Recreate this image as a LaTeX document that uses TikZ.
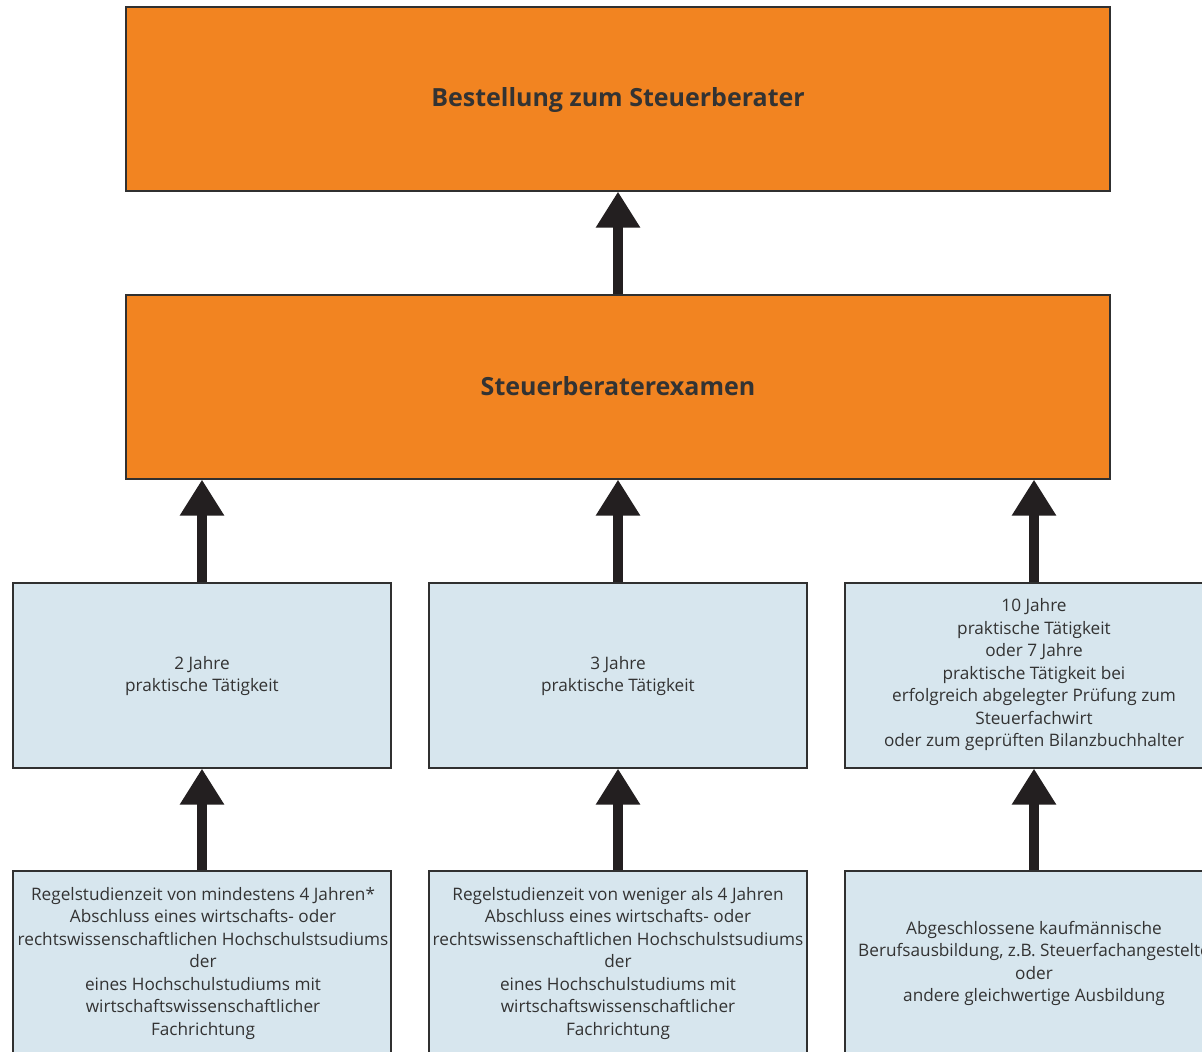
\documentclass[tikz,border=0pt]{standalone}
\usepackage{fontspec}
\setmainfont{Open Sans}
\usetikzlibrary{arrows.meta}
\definecolor{boxorange}{HTML}{F28421}
\definecolor{boxblue}{HTML}{D7E6EE}
\definecolor{frame}{HTML}{303030}
\definecolor{ink}{HTML}{333333}
\definecolor{arrowink}{HTML}{231F20}
\tikzset{
  stage/.style={draw=frame, line width=1.2pt, fill=boxorange, minimum width=984pt,
    minimum height=184pt, inner sep=0pt},
  stagetext/.style={inner sep=0pt, text=ink, font=\fontsize{25}{30}\selectfont\bfseries},
  route/.style={draw=frame, line width=1.2pt, fill=boxblue, minimum width=378pt,
    inner sep=0pt},
  txt/.style={inner sep=0pt, text=ink, align=center,
    font=\fontsize{17.2}{22.5}\selectfont},
  uparrow/.style={draw=arrowink, line width=10pt,
    -{Triangle[width=42pt,length=36pt,fill=arrowink]}}
}
\begin{document}
\begin{tikzpicture}[x=1pt,y=-1pt]
\clip (0,0) rectangle (1202,1052);
\fill[white] (0,0) rectangle (1202,1052);

% upper stages
\node[stage] (appoint) at (618,99) {};
\node[stage] (exam) at (618,387) {};
\node[stagetext] (appointt) at (618,100) {Bestellung zum Steuerberater};
\node[stagetext] (examt) at (618,386) {Steuerberaterexamen};

% practical experience
\node[route, minimum height=185pt] (pA) at (202,675.5) {};
\node[route, minimum height=185pt] (pB) at (618,675.5) {};
\node[route, minimum height=185pt] (pC) at (1034,675.5) {};
\node[txt] (pAt) at (202,676) {2 Jahre\\praktische Tätigkeit};
\node[txt] (pBt) at (618,676) {3 Jahre\\praktische Tätigkeit};
\node[txt] (pCt) at (1034,675) {10 Jahre\\praktische Tätigkeit\\oder 7 Jahre\\praktische Tätigkeit bei\\erfolgreich abgelegter Prüfung zum\\Steuerfachwirt\\oder zum geprüften Bilanzbuchhalter};

% education
\node[route, minimum height=186pt] (eA) at (202,964) {};
\node[route, minimum height=186pt] (eB) at (618,964) {};
\node[route, minimum height=186pt] (eC) at (1034,964) {};
\node[txt] (eAt) at (203,963.5) {Regelstudienzeit von mindestens 4 Jahren*\\Abschluss eines wirtschafts- oder\\rechtswissenschaftlichen Hochschulstsudiums\\der\\eines Hochschulstudiums mit\\wirtschaftswissenschaftlicher\\Fachrichtung};
\node[txt] (eBt) at (618,963.5) {Regelstudienzeit von weniger als 4 Jahren\\Abschluss eines wirtschafts- oder\\rechtswissenschaftlichen Hochschulstsudiums\\der\\eines Hochschulstudiums mit\\wirtschaftswissenschaftlicher\\Fachrichtung};
\node[txt] (eCt) at (1034,963.5) {Abgeschlossene kaufmännische\\Berufsausbildung, z.B. Steuerfachangestelte\\oder\\andere gleichwertige Ausbildung};

% connectors
\draw[uparrow] (exam.north) -- (appoint.south);
\draw[uparrow] (pA.north) -- (pA.north |- exam.south);
\draw[uparrow] (pB.north) -- (exam.south);
\draw[uparrow] (pC.north) -- (pC.north |- exam.south);
\draw[uparrow] (eA.north) -- (pA.south);
\draw[uparrow] (eB.north) -- (pB.south);
\draw[uparrow] (eC.north) -- (pC.south);
\end{tikzpicture}
\end{document}
